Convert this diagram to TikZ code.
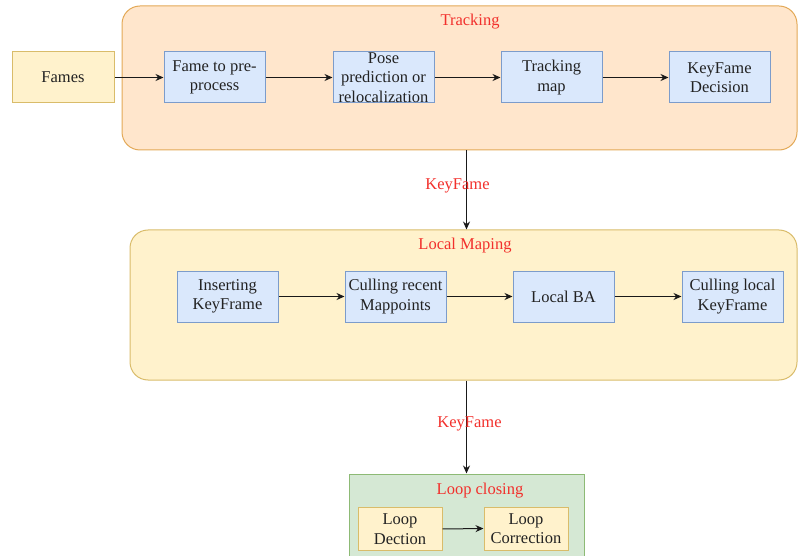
\documentclass[tikz,border=0pt]{standalone}
\usepackage{fontspec}
\setmainfont{Liberation Serif}
\usetikzlibrary{arrows.meta}

\definecolor{trackFill}{HTML}{FFE6CC}
\definecolor{trackLine}{HTML}{E3A957}
\definecolor{mapFill}{HTML}{FFF2CC}
\definecolor{mapLine}{HTML}{D9BC6A}
\definecolor{stepFill}{HTML}{DAE8FC}
\definecolor{stepLine}{HTML}{7C9CCB}
\definecolor{loopFill}{HTML}{D5E8D4}
\definecolor{loopLine}{HTML}{8DBA75}
\definecolor{titleRed}{HTML}{F2302C}
\definecolor{textGray}{HTML}{222222}

\tikzset{
  stage/.style={draw, line width=1pt, rounded corners=18pt},
  title/.style={text=titleRed, font=\fontsize{16.5}{19.5}\selectfont},
  stepbox/.style={draw=stepLine, fill=stepFill, line width=1pt, rectangle, minimum width=101pt, minimum height=51pt, align=center, text=textGray, font=\fontsize{16.5}{19.5}\selectfont, inner sep=2pt},
  loopStep/.style={stepbox, draw=mapLine, fill=mapFill, minimum width=84pt, minimum height=43pt},
  flow/.style={-{Stealth[length=8pt, width=7pt]}, line width=1pt, draw=black!90}
}

\begin{document}
\begin{tikzpicture}[x=1pt, y=-1pt]
  \useasboundingbox (0,0) rectangle (798,556);
  \node[stage, draw=trackLine, fill=trackFill, minimum width=675pt, minimum height=144pt] (trackingBox) at (459.5,78) {};
  \node[stage, draw=mapLine, fill=mapFill, minimum width=667pt, minimum height=150pt] (localMapBox) at (463.5,305) {};
  \node[draw=loopLine, fill=loopFill, line width=1pt, minimum width=235pt, minimum height=92pt] (loopBox) at (466.5,520) {};
  \node[title] (trackingTitle) at (470,22) {Tracking};
  \node[title] (mapTitle) at (465,245.5) {Local Maping};
  \node[title] (loopTitle) at (480,491) {Loop closing};

  \node[stepbox, draw=mapLine, fill=mapFill, minimum width=102pt] (fames) at (63,77.5) {Fames};
  \node[stepbox] (framePre) at (214.5,77.5) {Fame to pre-\\process};
  \node[stepbox, inner ysep=-3pt] (posePred) at (383.5,77.5) {Pose\\prediction or\\relocalization};
  \node[stepbox] (trackMap) at (551.5,77.5) {Tracking\\map};
  \node[stepbox] (keyDecision) at (719.5,77.5) {KeyFame\\Decision};

  \node[stepbox] (insertKey) at (227.5,296.5) {Inserting\\KeyFrame};
  \node[stepbox] (cullPoints) at (395.5,296.5) {Culling recent\\Mappoints};
  \node[stepbox] (localBA) at (563.5,296.5) {Local BA};
  \node[stepbox] (cullKey) at (732.5,296.5) {Culling local\\KeyFrame};

  \node[loopStep] (loopDetect) at (400,529) {Loop\\Dection};
  \node[loopStep] (loopCorrect) at (526,528.5) {Loop\\Correction};

  \draw[flow] (fames.east) -- (framePre.west);
  \draw[flow] (framePre.east) -- (posePred.west);
  \draw[flow] (posePred.east) -- (trackMap.west);
  \draw[flow] (trackMap.east) -- (keyDecision.west);
  \draw[flow] (insertKey.east) -- (cullPoints.west);
  \draw[flow] (cullPoints.east) -- (localBA.west);
  \draw[flow] (localBA.east) -- (cullKey.west);
  \draw[flow] (loopDetect.east) -- (loopCorrect.west);
  \draw[flow] (trackingBox.south -| loopBox.north) -- (localMapBox.north -| loopBox.north) node[title, midway, xshift=-9pt, yshift=4pt] {KeyFame};
  \draw[flow] (localMapBox.south -| loopBox.north) -- (loopBox.north) node[title, midway, xshift=3pt, yshift=3pt] {KeyFame};
\end{tikzpicture}
\end{document}
